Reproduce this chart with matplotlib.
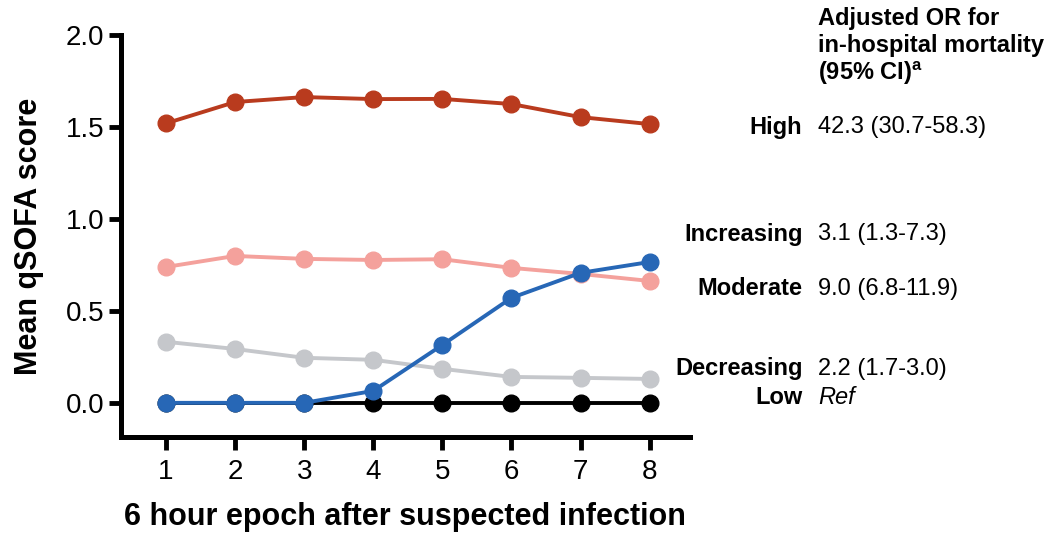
import matplotlib
matplotlib.use("Agg")
import matplotlib.pyplot as plt

plt.rcParams["font.family"] = ["Liberation Sans", "DejaVu Sans"]
plt.rcParams["mathtext.fontset"] = "custom"
plt.rcParams["mathtext.bf"] = "Liberation Sans:bold"
plt.rcParams["mathtext.rm"] = "Liberation Sans"

epochs = [1, 2, 3, 4, 5, 6, 7, 8]
high = [1.52, 1.636, 1.663, 1.652, 1.653, 1.625, 1.554, 1.516]
moderate = [0.739, 0.799, 0.783, 0.777, 0.781, 0.734, 0.701, 0.663]
decreasing = [0.332, 0.293, 0.245, 0.234, 0.185, 0.141, 0.136, 0.130]
low = [0, 0, 0, 0, 0, 0, 0, 0]
increasing = [0, 0, 0, 0.065, 0.315, 0.571, 0.707, 0.766]

groups = ["High", "Increasing", "Moderate", "Decreasing", "Low"]
odds = ["42.3 (30.7-58.3)", "3.1 (1.3-7.3)", "9.0 (6.8-11.9)", "2.2 (1.7-3.0)", "Ref"]
label_y = [1.5, 0.918, 0.62, 0.185, 0.03]

fig = plt.figure(figsize=(10.53, 5.40), dpi=100)
ax = fig.add_axes([0.115, 0.191, 0.54, 0.744])

series = [
    (high, "#b93b1e"),
    (moderate, "#f4a19c"),
    (decreasing, "#c5c7cb"),
    (low, "#000000"),
    (increasing, "#2767b6"),
]
for vals, col in series:
    ax.plot(epochs, vals, color=col, lw=2.8, marker="o", ms=12, mec=col, mfc=col, zorder=3, clip_on=False)

ax.set_xlim(0.35, 8.58)
ax.set_ylim(-0.185, 2.0)
ax.set_yticks([0.0, 0.5, 1.0, 1.5, 2.0])
ax.set_yticklabels(["0.0", "0.5", "1.0", "1.5", "2.0"])
ax.set_xticks(epochs)
ax.tick_params(axis="both", direction="out", width=3.5, length=9, labelsize=20, pad=3)
ax.tick_params(axis="x", pad=7)
for s in ["top", "right"]:
    ax.spines[s].set_visible(False)
for s in ["left", "bottom"]:
    ax.spines[s].set_linewidth(3.6)

ax.set_ylabel("Mean qSOFA score", fontsize=22, fontweight="bold", labelpad=16)
ax.set_xlabel("6 hour epoch after suspected infection", fontsize=22, fontweight="bold", labelpad=12)

# right-hand annotation column
trans = matplotlib.transforms.blended_transform_factory(fig.transFigure, ax.transData)
for g, o, y in zip(groups, odds, label_y):
    ax.text(0.762, y, g, transform=trans, ha="right", va="center", fontsize=17, fontweight="bold", clip_on=False)
    ax.text(0.777, y, o, transform=trans, ha="left", va="center", fontsize=17,
            style="italic" if o == "Ref" else "normal", clip_on=False)

fig.text(0.777, 0.965, "Adjusted OR for", ha="left", va="center", fontsize=17, fontweight="bold")
fig.text(0.777, 0.915, "in-hospital mortality", ha="left", va="center", fontsize=17, fontweight="bold")
fig.text(0.777, 0.865, r"(95% CI)$^{\mathbf{a}}$", ha="left", va="center", fontsize=17, fontweight="bold")

fig.savefig("out.png", dpi=100)
